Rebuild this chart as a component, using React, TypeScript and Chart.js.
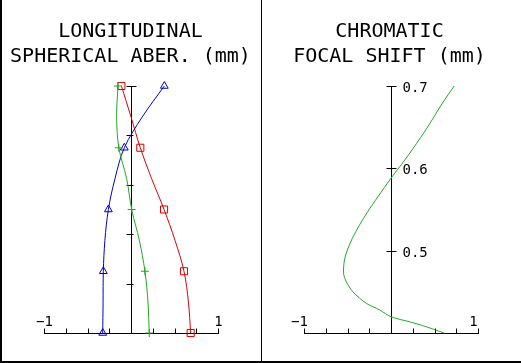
import { useEffect, useRef } from "react";
import { Chart, registerables } from "chart.js";

Chart.register(...registerables);

// ---- data: longitudinal spherical aberration (relative pupil height vs shift in mm)
const pupilLevels = [1, 0.875, 0.75, 0.625, 0.5, 0.375, 0.25, 0.125, 0];
const markerFlags = [true, false, true, false, true, false, true, false, true];
const redShift = [-0.11, 0.0, 0.107, 0.237, 0.38, 0.506, 0.609, 0.66, 0.686];
const blueShift = [0.383, 0.13, -0.077, -0.184, -0.26, -0.3, -0.318, -0.321, -0.325];
const greenShift = [-0.15, -0.165, -0.14, -0.05, 0.008, 0.096, 0.16, 0.195, 0.21];

// ---- data: chromatic focal shift (wavelength in µm vs shift in mm)
const wavelengths = [0.7, 0.679, 0.65, 0.624, 0.61, 0.588, 0.5655, 0.547, 0.531, 0.515, 0.5007, 0.4886, 0.4725, 0.4623, 0.45, 0.436, 0.428, 0.4197, 0.4136, 0.4075, 0.4];
const focalShift = [0.726, 0.59, 0.42, 0.253, 0.158, 0.0, -0.15, -0.27, -0.363, -0.444, -0.502, -0.535, -0.545, -0.514, -0.438, -0.283, -0.13, 0.0, 0.215, 0.407, 0.61];

// ---- ticks
const xTicks = [-1, -0.75, -0.5, -0.25, 0, 0.25, 0.5, 0.75, 1];
const xLabelValues = [-1, 1];
const leftYTicks = [0.2, 0.4, 0.6, 0.8, 1.0];
const rightYTicks = [0.5, 0.6, 0.7];
const rightYLabels = ["0.5", "0.6", "0.7"];

const RED = "#d80000";
const BLUE = "#0000c8";
const GREEN = "#22a822";
const MONO = '"DejaVu Sans Mono", "Liberation Mono", monospace';

const fmtX = (v: number) => (v < 0 ? "\u2212" + Math.abs(v) : String(v));

const axesPlugin = {
  id: "centerAxes",
  beforeDatasetsDraw(chart: any, _args: any, opts: any) {
    const { ctx } = chart;
    const xs = chart.scales.x;
    const ys = chart.scales.y;
    const px = (v: number) => Math.round(xs.getPixelForValue(v)) + 0.5;
    const py = (v: number) => Math.round(ys.getPixelForValue(v)) + 0.5;
    const y0 = py(ys.min);
    const x0 = px(0);
    ctx.save();
    ctx.strokeStyle = "#000";
    ctx.lineWidth = 1;
    ctx.beginPath();
    ctx.moveTo(px(xs.min) - 0.5, y0);
    ctx.lineTo(px(xs.max) + 0.5, y0);
    ctx.moveTo(x0, y0);
    ctx.lineTo(x0, py(ys.max) - 0.5);
    for (const t of opts.xTicks) {
      ctx.moveTo(px(t), y0);
      ctx.lineTo(px(t), y0 - 5);
    }
    for (const t of opts.yTicks) {
      const y = py(t);
      const isTop = t === ys.max;
      ctx.moveTo(x0 - 5, y);
      ctx.lineTo(x0 + (isTop || opts.symTicks ? 5 : 2), y);
    }
    ctx.stroke();
    ctx.fillStyle = "#000";
    ctx.font = "14px " + MONO;
    ctx.textAlign = "center";
    ctx.textBaseline = "alphabetic";
    for (const v of opts.xLabels) {
      ctx.fillText(fmtX(v), px(v) + opts.xLabelShift, y0 - 8);
    }
    if (opts.yLabels) {
      ctx.textAlign = "left";
      opts.yTicks.forEach((t: number, i: number) => {
        ctx.fillText(opts.yLabels[i], x0 + 11, py(t) + 5);
      });
    }
    ctx.restore();
  },
};

function useChart(ref: any, config: any) {
  useEffect(() => {
    if (!ref.current) return;
    const chart = new Chart(ref.current, config);
    return () => chart.destroy();
  }, []);
}

const baseOptions = (xmin: number, xmax: number, ymin: number, ymax: number, padding: any, axes: any) => ({
  animation: false,
  responsive: false,
  devicePixelRatio: 1,
  layout: { padding },
  scales: {
    x: { type: "linear", min: xmin, max: xmax, display: false },
    y: { type: "linear", min: ymin, max: ymax, display: false },
  },
  plugins: {
    legend: { display: false },
    tooltip: { enabled: false },
    title: { display: false },
    centerAxes: axes,
  },
});

function aberSeries(values: number[], color: string, style: string, radius: number) {
  return {
    data: pupilLevels.map((y, i) => ({ x: values[i], y })),
    borderColor: color,
    borderWidth: 1,
    tension: 0.35,
    fill: false,
    clip: false,
    pointStyle: style,
    pointRadius: markerFlags.map((f) => (f ? radius : 0)),
    pointBorderColor: color,
    pointBackgroundColor: "rgba(0,0,0,0)",
    pointBorderWidth: 1,
  };
}

function LeftChart() {
  const ref = useRef<HTMLCanvasElement>(null);
  useChart(ref, {
    type: "line",
    data: {
      datasets: [
        aberSeries(greenShift, GREEN, "cross", 4),
        aberSeries(blueShift, BLUE, "triangle", 4.5),
        aberSeries(redShift, RED, "rect", 5),
      ],
    },
    options: baseOptions(-1, 1, 0, 1, { left: 44, right: 43, top: 86, bottom: 30 }, {
      xTicks,
      xLabels: xLabelValues,
      xLabelShift: 0,
      yTicks: leftYTicks,
      symTicks: false,
    }),
    plugins: [axesPlugin],
  });
  return <canvas ref={ref} width={261} height={363} style={{ position: "absolute", left: 0, top: 0, width: 261, height: 363 }} />;
}

function RightChart() {
  const ref = useRef<HTMLCanvasElement>(null);
  useChart(ref, {
    type: "line",
    data: {
      datasets: [
        {
          data: wavelengths.map((y, i) => ({ x: focalShift[i], y })),
          borderColor: GREEN,
          borderWidth: 1,
          tension: 0.3,
          fill: false,
          clip: false,
          pointRadius: 0,
        },
      ],
    },
    options: baseOptions(-1, 1, 0.4, 0.7, { left: 42, right: 43, top: 86, bottom: 30 }, {
      xTicks,
      xLabels: xLabelValues,
      xLabelShift: -5,
      yTicks: rightYTicks,
      yLabels: rightYLabels,
      symTicks: true,
    }),
    plugins: [axesPlugin],
  });
  return <canvas ref={ref} width={259} height={363} style={{ position: "absolute", left: 262, top: 0, width: 259, height: 363 }} />;
}

const titleStyle: any = {
  position: "absolute",
  top: 18,
  fontFamily: MONO,
  fontSize: 20,
  lineHeight: "25px",
  textAlign: "center",
  color: "#000",
  whiteSpace: "pre",
};

export default function App() {
  return (
    <div style={{ position: "fixed", left: 0, top: 0, width: 521, height: 363, background: "#fff", overflow: "hidden" }}>
      <LeftChart />
      <RightChart />
      <div style={{ ...titleStyle, left: 0, width: 261 }}>
        <div>LONGITUDINAL</div>
        <div>SPHERICAL ABER. (mm)</div>
      </div>
      <div style={{ ...titleStyle, left: 260, width: 259 }}>
        <div>CHROMATIC</div>
        <div>FOCAL SHIFT (mm)</div>
      </div>
      <div style={{ position: "absolute", left: 0, top: 0, width: 2, height: 363, background: "#000" }} />
      <div style={{ position: "absolute", left: 261, top: 0, width: 1, height: 363, background: "#000" }} />
      <div style={{ position: "absolute", left: 0, top: 361, width: 521, height: 2, background: "#000" }} />
    </div>
  );
}
